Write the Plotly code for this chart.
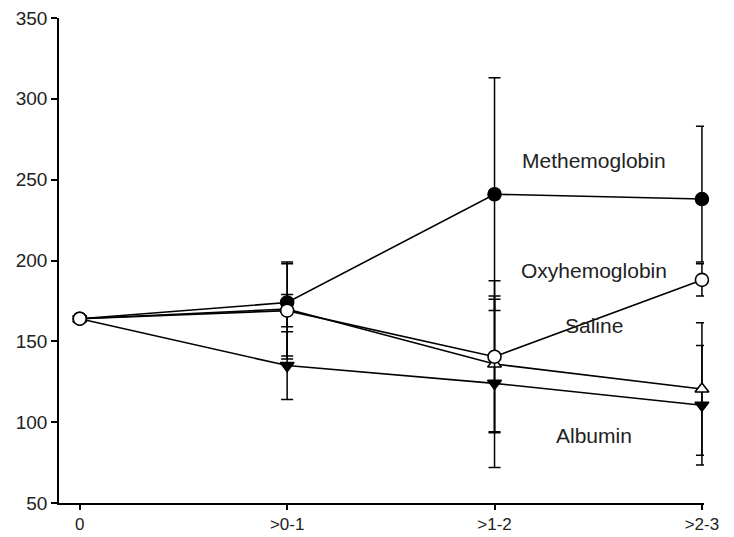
import plotly.graph_objects as go

# Time intervals on the x axis
categories = ["0", ">0-1", ">1-2", ">2-3"]

# Mean values per treatment group
methemoglobin = [164, 174, 241, 238]
oxyhemoglobin = [164, 169, 140.5, 188]
saline = [164, 170, 136, 120.5]
albumin = [164, 135, 124, 110.5]

# Error bar extents (upper / lower)
meth_err_up = [0, 24, 72, 45]
meth_err_down = [0, 35, 72, 39]
oxy_err = [0, 10, 47, 10]
saline_err = [0, 29, 42, 41]
albumin_err = [0, 21, 52, 37]

y_ticks = [50, 100, 150, 200, 250, 300, 350]

series_labels = ["Methemoglobin", "Oxyhemoglobin", "Saline", "Albumin"]
label_y = [262, 194, 160, 92]

fig = go.Figure()


def add_series(values, err_up, err_down, symbol, fill, size):
    fig.add_trace(go.Scatter(
        x=categories,
        y=values,
        mode="lines+markers",
        line=dict(color="black", width=1.6),
        marker=dict(symbol=symbol, size=size, color=fill,
                    line=dict(color="black", width=1.6)),
        error_y=dict(type="data", symmetric=False, array=err_up,
                     arrayminus=err_down, color="black", thickness=1.5,
                     width=6),
        showlegend=False,
        cliponaxis=False,
    ))


add_series(methemoglobin, meth_err_up, meth_err_down, "circle", "black", 13)
add_series(albumin, albumin_err, albumin_err, "triangle-down", "black", 12)
add_series(saline, saline_err, saline_err, "triangle-up", "white", 12)
add_series(oxyhemoglobin, oxy_err, oxy_err, "circle", "white", 13)

for text, yv in zip(series_labels, label_y):
    fig.add_annotation(x=2.478, y=yv, xref="x", yref="y", text=text,
                       showarrow=False,
                       font=dict(family="Liberation Sans, Arial", size=21,
                                 color="#222"))

fig.update_layout(
    width=734, height=537,
    margin=dict(l=59, r=30, t=18, b=34),
    plot_bgcolor="white", paper_bgcolor="white",
    font=dict(family="Liberation Sans, Arial", size=19, color="#222"),
)
fig.update_xaxes(
    type="category", range=[-0.1, 3.01], automargin=False,
    tickfont=dict(size=17),
    showline=True, linecolor="black", linewidth=1.7,
    ticks="outside", ticklen=5, tickwidth=1.6, tickcolor="black",
    showgrid=False, zeroline=False,
)
fig.update_yaxes(
    range=[50, 350], tickvals=y_ticks, automargin=False,
    showline=True, linecolor="black", linewidth=1.7,
    ticks="outside", ticklen=6, tickwidth=1.6, tickcolor="black",
    showgrid=False, zeroline=False,
)

fig.write_html("out.html")
